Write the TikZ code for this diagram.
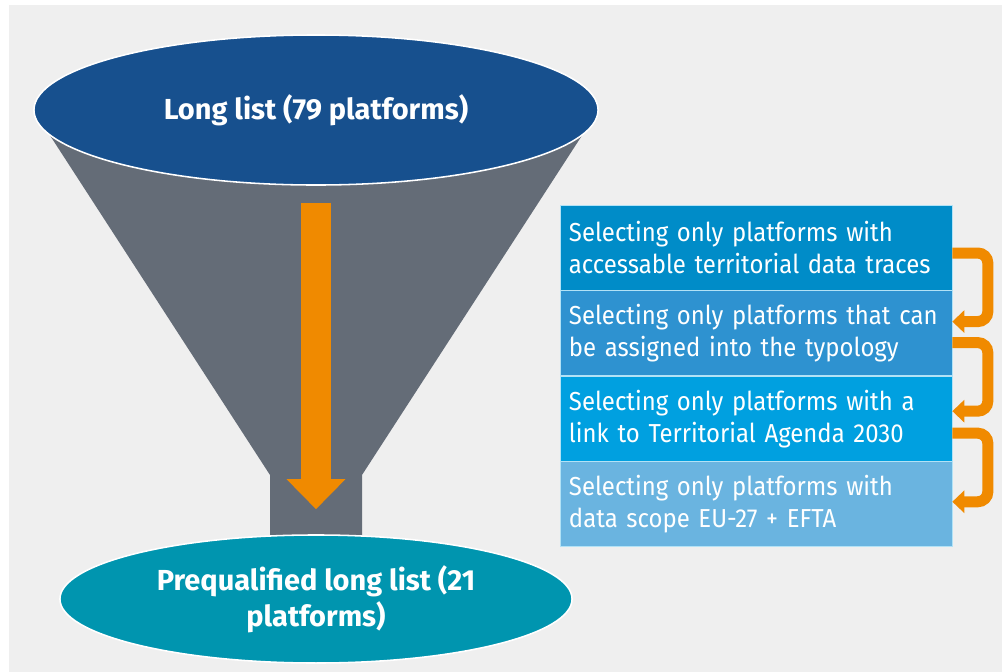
\documentclass[tikz,border=0pt]{standalone}
\usepackage{fontspec}
\usepackage{tikz}
\usetikzlibrary{positioning,arrows.meta,shapes.geometric}

\newfontfamily\boxfont{Fira Sans}[FakeStretch=0.92]
\newfontfamily\headfont{Fira Sans}

\definecolor{bggray}{HTML}{EFEFEF}
\definecolor{funnelgray}{HTML}{646C77}
\definecolor{topblue}{HTML}{17508E}
\definecolor{bottomteal}{HTML}{0095AF}
\definecolor{arroworange}{HTML}{F08A00}
\definecolor{selA}{HTML}{008CC8}
\definecolor{selB}{HTML}{2E92D0}
\definecolor{selC}{HTML}{00A0E0}
\definecolor{selD}{HTML}{6AB4E0}

\begin{document}
\begin{tikzpicture}[x=0.025cm, y=-0.025cm,
    listoval/.style={ellipse, draw=white, line width=1.1pt, inner sep=0pt,
        text=white, align=center, font=\headfont\bfseries\fontsize{20.6}{25.6}\selectfont},
    selbox/.style={rectangle, draw=white!70!selC, line width=0.4pt, text=white,
        minimum width=9.8cm, minimum height=2.125cm, text width=9.35cm,
        inner xsep=0.225cm, inner ysep=0pt, align=left,
        font=\boxfont\fontsize{18.5}{22.8}\selectfont},
    turn/.style={draw=arroworange, line width=0.275cm, rounded corners=0.25cm,
        -{Triangle[width=0.55cm,length=0.3cm]}},
]
\useasboundingbox (0,0) rectangle (1002,672);
\fill[white] (0,0) rectangle (1002,672);
\fill[bggray] (9,5) rectangle (1002,672);

% Funnel body and neck
\fill[funnelgray] (40,120) -- (270,475) -- (270,540) -- (362,540)
    -- (362,475) -- (592,120) -- cycle;

% Top and bottom of the funnel
\node[listoval, fill=topblue, minimum width=14.1cm, minimum height=3.75cm]
    (longlist) at (316,110) {Long list (79 platforms)};
\node[listoval, fill=bottomteal, minimum width=12.8cm, minimum height=3.2cm]
    (prelist) at (316,599) {Prequalified long list (21\\platforms)};

% Flow through the funnel
\draw[draw=arroworange, line width=0.725cm,
    -{Triangle[width=1.425cm,length=0.75cm]},
    shorten <=0.425cm, shorten >=0.625cm] (longlist.south) -- (prelist.north);

% Selection steps
\node[selbox, fill=selA] (sel1) at (756,247.5)
    {Selecting only platforms with\\accessable territorial data traces};
\node[selbox, fill=selB, below=0pt of sel1] (sel2)
    {Selecting only platforms that can\\be assigned into the typology};
\node[selbox, fill=selC, below=0pt of sel2] (sel3)
    {Selecting only platforms with a\\link to Territorial Agenda 2030};
\node[selbox, fill=selD, below=0pt of sel3] (sel4)
    {Selecting only platforms with\\data scope EU-27 + EFTA};

% Step-to-step arrows
\draw[turn] ([yshift=-0.1375cm]sel1.east) -| ([xshift=0.8875cm,yshift=0.2875cm]sel2.east)
    -- ([yshift=0.2875cm]sel2.east);
\draw[turn] ([yshift=-0.2375cm]sel2.east) -| ([xshift=0.8875cm,yshift=0.1875cm]sel3.east)
    -- ([yshift=0.1875cm]sel3.east);
\draw[turn] ([yshift=-0.3625cm]sel3.east) -| ([xshift=0.8875cm,yshift=0.0625cm]sel4.east)
    -- ([yshift=0.0625cm]sel4.east);
\end{tikzpicture}
\end{document}
